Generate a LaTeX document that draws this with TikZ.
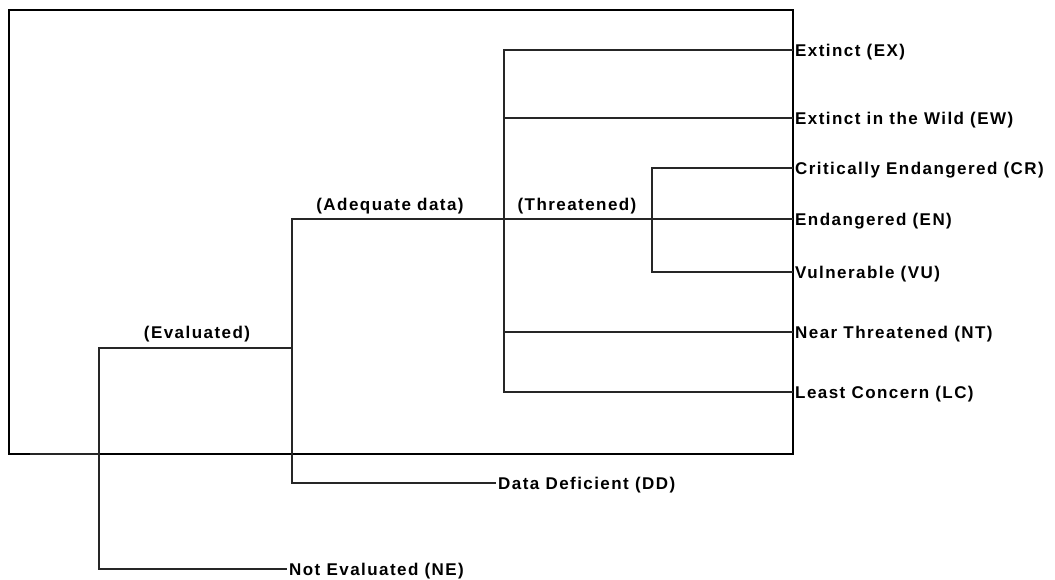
\documentclass[tikz,border=0pt]{standalone}
\usepackage{fontspec}
\newfontfamily\labfont[LetterSpace=8.5]{Liberation Sans}
\begin{document}
\begin{tikzpicture}[x=1pt,y=-1pt,
  txt/.style={font=\labfont\fontsize{17}{20}\selectfont\bfseries},
  leaf/.style={txt,anchor=west,inner xsep=2pt,inner ysep=0pt,text height=12.2pt,text depth=0pt},
  branchlabel/.style={txt,inner sep=0pt,text height=12.2pt,text depth=0pt},
  tree/.style={line width=1.2pt,draw=black!85},
  frame/.style={line width=1.3pt,draw=black}]
\useasboundingbox (0,0) rectangle (1055,580);
\draw[frame] (9,10) rectangle (793,454);
% junctions
\coordinate (root) at (30,454);
\coordinate (j1) at (99,454);
\coordinate (j2) at (292,348);
\coordinate (j3) at (504,219);
\coordinate (j4) at (652,219);
% leaves
\node[leaf] (EX) at (793,50) {Extinct (EX)};
\node[leaf] (EW) at (793,118) {Extinct in the Wild (EW)};
\node[leaf] (CR) at (793,168) {Critically Endangered (CR)};
\node[leaf] (EN) at (793,219) {Endangered (EN)};
\node[leaf] (VU) at (793,272) {Vulnerable (VU)};
\node[leaf] (NT) at (793,332) {Near Threatened (NT)};
\node[leaf] (LC) at (793,392) {Least Concern (LC)};
\node[leaf] (DD) at (496,483) {Data Deficient (DD)};
\node[leaf] (NE) at (287,569) {Not Evaluated (NE)};
% branch labels
\node[branchlabel] (lEval) at (197,332) {(Evaluated)};
\node[branchlabel] (lAdeq) at (390,204) {(Adequate data)};
\node[branchlabel] (lThr) at (577,204) {(Threatened)};
% connectors
\draw[tree] (root) -- (j1);
\draw[tree] (j1) |- (j2);
\draw[tree] (j1) |- (NE.west);
\draw[tree] (j2) |- (DD.west);
\draw[tree] (j2) |- (j3) -- (j4) -- (EN.west);
\draw[tree] (j3) |- (EX.west);
\draw[tree] (j3) |- (EW.west);
\draw[tree] (j3) |- (NT.west);
\draw[tree] (j3) |- (LC.west);
\draw[tree] (j4) |- (CR.west);
\draw[tree] (j4) |- (VU.west);
\end{tikzpicture}
\end{document}
